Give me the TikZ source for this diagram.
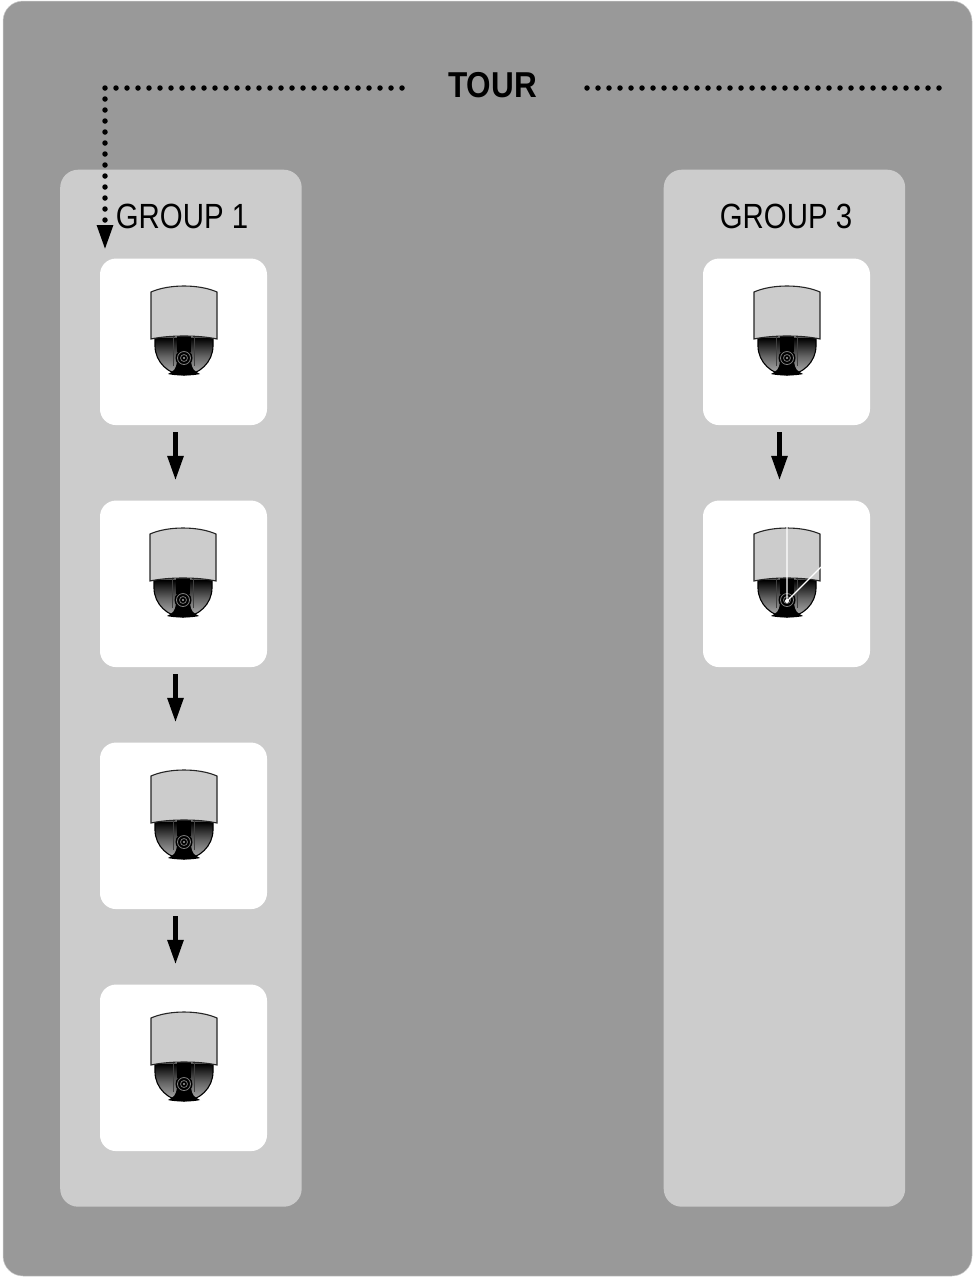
\documentclass[tikz,border=0pt]{standalone}
\usepackage{fontspec}
\setmainfont{Liberation Sans}
\usetikzlibrary{arrows.meta,calc}
\definecolor{panelgray}{HTML}{999999}
\definecolor{groupgray}{HTML}{CCCCCC}
\tikzset{
  x=1pt,y=-1pt,
  panelbox/.style={fill=panelgray,draw=groupgray,line width=.5pt,rounded corners=20pt},
  groupbox/.style={fill=groupgray,draw=none,rounded corners=18pt,minimum width=241.5pt,minimum height=1037pt,inner sep=0pt,anchor=north west},
  camerabox/.style={fill=white,draw=none,rounded corners=16pt,minimum width=167pt,minimum height=166.5pt,inner sep=0pt},
  grouplabel/.style={font=\fontsize{35}{38}\selectfont,xscale=.84,inner sep=0pt},
  tourlabel/.style={font=\fontsize{36}{38}\selectfont\bfseries,xscale=.875,inner sep=0pt},
  flowarrow/.style={line width=5.5pt,-{Triangle[length=25pt,width=15pt]},shorten <=7pt,shorten >=19.5pt},
  dotline/.style={line width=5.5pt,line cap=round,dash pattern=on 0pt off 11pt},
  dottip/.style={-{Triangle[length=25pt,width=15pt]}},
  pics/dome/.style={code={
    % dome
    \path[top color=black,bottom color=black!30,middle color=black!60,draw=black,line width=1.1pt]
      (-29,54) -- (-29,62) .. controls (-29,78) and (-15,91) .. (0,91)
      .. controls (15,91) and (29,78) .. (29,62) -- (29,54) -- cycle;
    \draw[black!75,line width=.7pt] (-11,53) -- (-11,82) (10,53) -- (10,82);
    % column
    \fill[black] (-7,52) rectangle (7,68);
    % foot
    \fill[black] (-16,90) .. controls (-10,87) and (-8,85) .. (-7,78) -- (7,78)
      .. controls (8,85) and (10,87) .. (16,90) .. controls (8,92) and (-8,92) .. (-16,90) -- cycle;
    % lens
    \fill[black] (0,74) circle[radius=8.5pt];
    \draw[black!50,line width=.8pt] (0,74) circle[radius=6.5pt];
    \draw[black!55,line width=.8pt] (0,74) circle[radius=3.5pt];
    \fill[black!35] (0,74) circle[radius=1.2pt];
    % housing
    \path[fill=groupgray,draw=black!85,line width=1.1pt]
      (-33,8) .. controls (-15,0) and (15,0) .. (33,8) -- (33,55)
      .. controls (15,51) and (-15,51) .. (-33,55) -- cycle;
  }}
}
\begin{document}
\begin{tikzpicture}
\useasboundingbox (0,0) rectangle (975,1278);
\draw[panelbox] (3,1) rectangle (972,1276);
\node[groupbox] (group1) at (60,169.5) {};
\node[groupbox] (group3) at (663.5,169.5) {};
\node[camerabox] (a1) at (183.5,341.8) {};
\node[camerabox] (a2) at (183.5,583.8) {};
\node[camerabox] (a3) at (183.5,825.8) {};
\node[camerabox] (a4) at (183.5,1067.8) {};
\node[camerabox] (b1) at (786.5,341.8) {};
\node[camerabox] (b2) at (786.5,583.8) {};
\pic at (184,284) {dome};
\pic at (183,526) {dome};
\pic at (184,768) {dome};
\pic at (184,1010) {dome};
\pic at (787,284) {dome};
\pic at (787,526) {dome};
% white marks on the last camera
\coordinate (wtop) at (787,526);
\coordinate (wpivot) at (787,601);
\coordinate (wside) at (821,567);
\draw[white,line width=1.2pt] (wtop) -- (wpivot) -- (wside);
\node[fill=white,circle,inner sep=0pt,minimum size=4pt] (wdot) at (wpivot) {};
% labels
\node[grouplabel] (lab1) at (182,216) {GROUP 1};
\node[grouplabel] (lab3) at (786,216) {GROUP 3};
\node[tourlabel] (tour) at (492.5,85) {TOUR};
% tour lines
\coordinate (tourleft) at (402,88);
\coordinate (tourcorner) at (105,88);
\coordinate (tourin) at (105,250);
\coordinate (tourright) at (587,88);
\coordinate (tourend) at (942,88);
\draw[dotline,dottip] (tourleft) -- (tourcorner) -- (tourin);
\draw[dotline] (tourright) -- (tourend);
% flow arrows
\draw[flowarrow] ([xshift=-8pt]a1.south) -- ([xshift=-8pt]a2.north);
\draw[flowarrow] ([xshift=-8pt]a2.south) -- ([xshift=-8pt]a3.north);
\draw[flowarrow] ([xshift=-8pt]a3.south) -- ([xshift=-8pt]a4.north);
\draw[flowarrow] ([xshift=-7pt]b1.south) -- ([xshift=-7pt]b2.north);
\end{tikzpicture}
\end{document}
